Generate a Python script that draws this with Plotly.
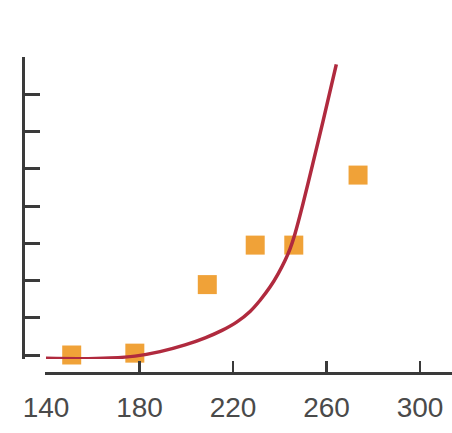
import plotly.graph_objects as go

# Observed data points (orange squares)
point_x = [151, 178, 209, 229.5, 246, 273.5]
point_y = [0.0, 0.05, 1.89, 2.95, 2.95, 4.83]

# Fitted curve
curve_x = [140.0, 154.5, 167.4, 178.1, 188.8, 199.5, 208.1, 215.3, 221.7, 227.3,
           231.6, 235.9, 239.3, 242.2, 244.4, 246.5, 249.9, 254.2, 258.5, 264.2]
curve_y = [-0.09, -0.10, -0.08, -0.03, 0.09, 0.27, 0.46, 0.66, 0.89, 1.17,
           1.47, 1.83, 2.18, 2.53, 2.85, 3.25, 4.05, 5.15, 6.27, 7.80]

x_ticks = [140, 180, 220, 260, 300]
y_ticks = [0, 1, 2, 3, 4, 5, 6, 7, 8]

W, H = 452, 433

fig = go.Figure()
fig.add_trace(go.Scatter(
    x=point_x, y=point_y, mode="markers",
    marker=dict(symbol="square", size=19, color="#F0A238", line=dict(width=0)),
    cliponaxis=False, showlegend=False,
))
fig.add_trace(go.Scatter(
    x=curve_x, y=curve_y, mode="lines",
    line=dict(color="#B02A3E", width=3.5, shape="spline", smoothing=0.8),
    hoverinfo="skip", showlegend=False,
))

x0_px = 45.0
px_per_unit = 93.5 / 40.0
x_lo = 140 - (46 - x0_px) / px_per_unit
x_hi = 140 + (W - 46) / px_per_unit

y_unit_px = (355 - 57) / 8.0
y_lo = -0.11
bottom_px = 355 + (-y_lo) * y_unit_px

fig.update_layout(
    width=W, height=H,
    margin=dict(l=0, r=0, t=0, b=0, pad=0),
    paper_bgcolor="white", plot_bgcolor="white",
    font=dict(family="Liberation Sans, Arial, sans-serif", color="#4a4a4a"),
    xaxis=dict(
        domain=[x0_px / W, 1.0],
        range=[x_lo, x_hi],
        anchor="free", position=(H - 373) / H,
        showline=True, linecolor="#3a3a3a", linewidth=3,
        ticks="inside", ticklen=11, tickwidth=2.5, tickcolor="#3a3a3a",
        tickvals=x_ticks, ticktext=[str(v) for v in x_ticks],
        tickfont=dict(size=28, color="#4a4a4a"),
        ticklabelstandoff=8,
        automargin=False,
        showgrid=False, zeroline=False, fixedrange=True,
    ),
    yaxis=dict(
        domain=[(H - bottom_px) / H, (H - 57) / H],
        range=[y_lo, 8],
        anchor="free", position=23 / W,
        showline=True, linecolor="#3a3a3a", linewidth=3,
        ticks="inside", ticklen=15, tickwidth=3, tickcolor="#3a3a3a",
        tickvals=y_ticks, showticklabels=False,
        automargin=False,
        showgrid=False, zeroline=False, fixedrange=True,
    ),
)

fig.write_html(
    "out.html",
    config={"displayModeBar": False, "staticPlot": True},
    post_script="document.body.style.margin='0';document.body.style.overflow='hidden';",
)
